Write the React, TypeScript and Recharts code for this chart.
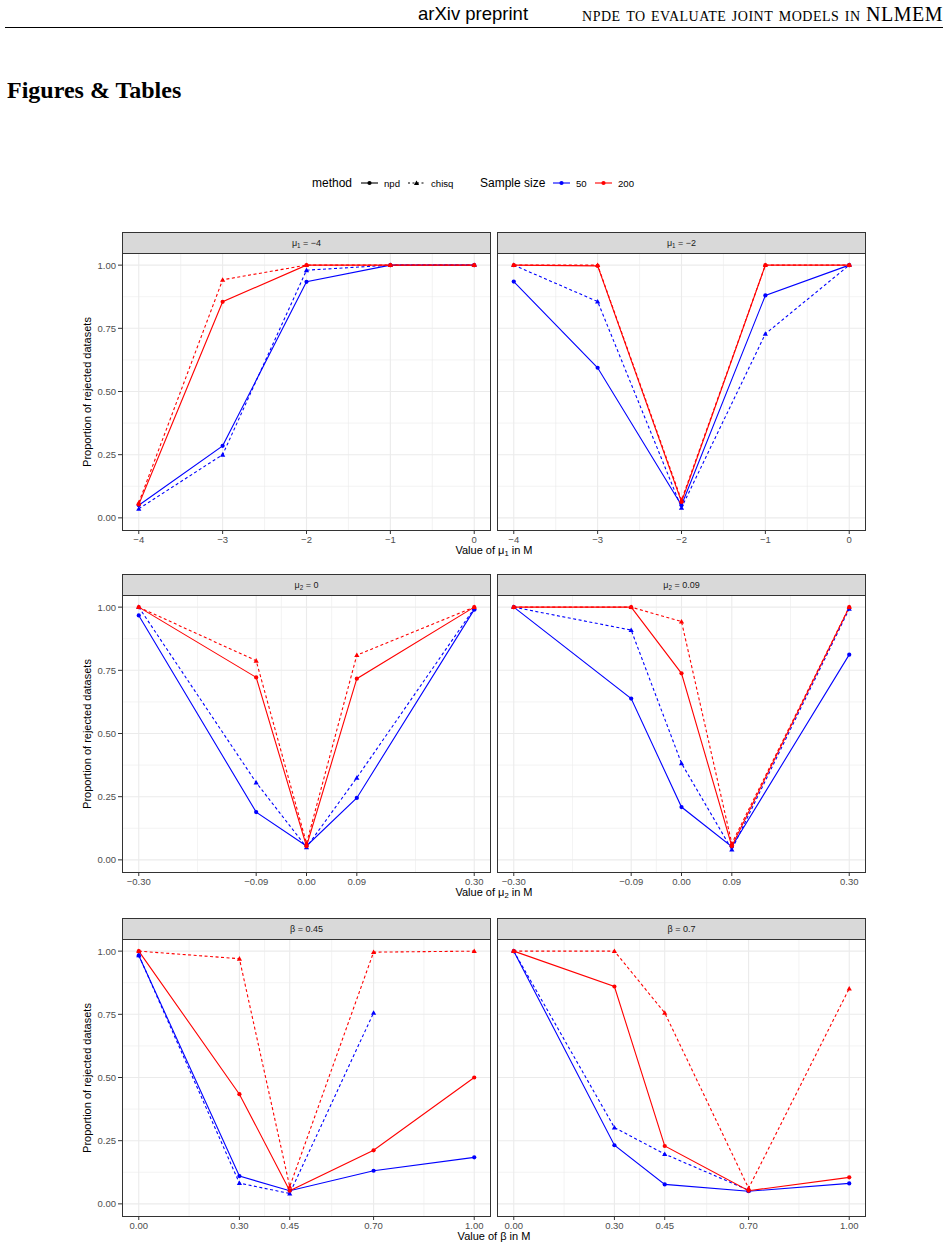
import React from 'react'
import { LineChart, Line, XAxis, YAxis, CartesianGrid } from 'recharts'

// x values tested in each row of panels
const mu1Values = [-4, -3, -2, -1, 0]
const mu2Values = [-0.3, -0.09, 0, 0.09, 0.3]
const betaValues = [0, 0.3, 0.45, 0.7, 1]

// shared y ticks (proportion of rejected datasets)
const yTicks = [0, 0.25, 0.5, 0.75, 1]

// mu1 = -4
const mu1aNpd50 = [0.05, 0.285, 0.934, 1, 1]
const mu1aChisq50 = [0.036, 0.25, 0.98, 1, 1]
const mu1aNpd200 = [0.053, 0.855, 1, 1, 1]
const mu1aChisq200 = [0.06, 0.942, 1, 1, 1]

// mu1 = -2
const mu1bNpd50 = [0.935, 0.594, 0.05, 0.88, 1]
const mu1bChisq50 = [1, 0.856, 0.04, 0.728, 1]
const mu1bNpd200 = [1, 0.997, 0.063, 1, 1]
const mu1bChisq200 = [1, 1, 0.07, 1, 1]

// mu2 = 0
const mu2aNpd50 = [0.967, 0.189, 0.055, 0.245, 0.99]
const mu2aChisq50 = [1, 0.306, 0.05, 0.325, 0.995]
const mu2aNpd200 = [1, 0.722, 0.054, 0.717, 1]
const mu2aChisq200 = [1, 0.788, 0.065, 0.81, 1]

// mu2 = 0.09
const mu2bNpd50 = [1, 0.638, 0.209, 0.052, 0.812]
const mu2bChisq50 = [1, 0.909, 0.382, 0.041, 0.993]
const mu2bNpd200 = [1, 1, 0.738, 0.054, 1]
const mu2bChisq200 = [1, 1, 0.943, 0.065, 1]

// beta = 0.45
const betaaNpd50 = [0.983, 0.11, 0.052, 0.131, 0.184]
const betaaChisq50 = [0.984, 0.082, 0.041, 0.756, null]
const betaaNpd200 = [1, 0.434, 0.052, 0.212, 0.5]
const betaaChisq200 = [1, 0.97, 0.068, 0.996, 1]

// beta = 0.7
const betabNpd50 = [1, 0.232, 0.077, 0.05, 0.081]
const betabChisq50 = [1, 0.302, 0.197, 0.054, null]
const betabNpd200 = [1, 0.86, 0.229, 0.052, 0.105]
const betabChisq200 = [1, 1, 0.756, 0.062, 0.852]

const BLUE = '#0000FF'
const RED = '#FF0000'
const FONT = '"Liberation Sans", Arial, Helvetica, sans-serif'
const SERIF = '"Liberation Serif", "Times New Roman", serif'

const PANEL_W = 369
const PANEL_H = 277
const STRIP_H = 21
const COL_LEFT = [122, 497]
const STRIP_TOP = [232, 574, 918]
const Y_AXIS_W = 52

type Row = { x: number; npd50: number | null; chisq50: number | null; npd200: number | null; chisq200: number | null }

const buildRows = (
    xs: number[],
    npd50: (number | null)[],
    chisq50: (number | null)[],
    npd200: (number | null)[],
    chisq200: (number | null)[],
): Row[] =>
    xs.map((x, i) => ({ x, npd50: npd50[i], chisq50: chisq50[i], npd200: npd200[i], chisq200: chisq200[i] }))

const midpoints = (ticks: number[]) => ticks.slice(1).map((t, i) => (t + ticks[i]) / 2)

const fmtSigned = (digits: number) => (v: number) => {
    const s = Math.abs(v).toFixed(digits)
    return v < 0 ? `\u2212${s}` : s
}

const circleDot = (color: string) => (props: any) => {
    const { cx, cy, index, value } = props
    if (cx == null || cy == null || value == null) return <g key={`c-${index}`} />
    return <circle key={`c-${index}`} cx={cx} cy={cy} r={2.1} fill={color} stroke="none" />
}

const triangleDot = (color: string) => (props: any) => {
    const { cx, cy, index, value } = props
    if (cx == null || cy == null || value == null) return <g key={`t-${index}`} />
    const s = 2.6
    return (
        <polygon
            key={`t-${index}`}
            points={`${cx},${cy - s} ${cx - s},${cy + s * 0.75} ${cx + s},${cy + s * 0.75}`}
            fill={color}
            stroke="none"
        />
    )
}

interface PanelProps {
    label: React.ReactNode
    col: number
    row: number
    data: Row[]
    xTicks: number[]
    xDomain: [number, number]
    xFormat: (v: number) => string
    showY: boolean
}

function Panel({ label, col, row, data, xTicks, xDomain, xFormat, showY }: PanelProps) {
    const left = COL_LEFT[col]
    const stripTop = STRIP_TOP[row]
    const top = stripTop + STRIP_H
    const tickStyle = { fill: '#4D4D4D', fontSize: 9.5, fontFamily: FONT }

    return (
        <>
            <div
                style={{
                    position: 'absolute',
                    left,
                    top: stripTop,
                    width: PANEL_W,
                    height: STRIP_H + 1,
                    boxSizing: 'border-box',
                    background: '#D9D9D9',
                    border: '1px solid #333333',
                    display: 'flex',
                    alignItems: 'center',
                    justifyContent: 'center',
                    fontFamily: FONT,
                    fontSize: 9,
                    color: '#1A1A1A',
                }}
            >
                {label}
            </div>
            <div style={{ position: 'absolute', left: left - Y_AXIS_W, top }}>
                <LineChart
                    width={Y_AXIS_W + PANEL_W + 10}
                    height={PANEL_H + 22}
                    data={data}
                    margin={{ top: 0, right: 10, bottom: 0, left: showY ? 0 : Y_AXIS_W }}
                >
                    {/* minor then major grid */}
                    <CartesianGrid
                        stroke="#EBEBEB"
                        strokeWidth={0.6}
                        horizontalValues={midpoints(yTicks)}
                        verticalValues={midpoints(xTicks)}
                    />
                    <CartesianGrid stroke="#EBEBEB" strokeWidth={1.1} horizontalValues={yTicks} verticalValues={xTicks} />
                    <XAxis
                        type="number"
                        dataKey="x"
                        domain={xDomain}
                        ticks={xTicks}
                        allowDataOverflow
                        interval={0}
                        height={22}
                        axisLine={false}
                        tickLine={{ stroke: '#333333' }}
                        tickSize={4}
                        tickFormatter={xFormat}
                        tick={tickStyle}
                    />
                    <YAxis
                        type="number"
                        domain={[-0.048, 1.048]}
                        ticks={yTicks}
                        allowDataOverflow
                        hide={!showY}
                        width={Y_AXIS_W}
                        axisLine={false}
                        tickLine={{ stroke: '#333333' }}
                        tickSize={4}
                        tickFormatter={(v: number) => v.toFixed(2)}
                        tick={tickStyle}
                    />
                    <Line dataKey="npd50" stroke={BLUE} strokeWidth={1.1} dot={circleDot(BLUE)} isAnimationActive={false} />
                    <Line
                        dataKey="chisq50"
                        stroke={BLUE}
                        strokeWidth={1.1}
                        strokeDasharray="3 2.5"
                        dot={triangleDot(BLUE)}
                        isAnimationActive={false}
                    />
                    <Line dataKey="npd200" stroke={RED} strokeWidth={1.1} dot={circleDot(RED)} isAnimationActive={false} />
                    <Line
                        dataKey="chisq200"
                        stroke={RED}
                        strokeWidth={1.1}
                        strokeDasharray="3 2.5"
                        dot={triangleDot(RED)}
                        isAnimationActive={false}
                    />
                </LineChart>
            </div>
            <div
                style={{
                    position: 'absolute',
                    left,
                    top,
                    width: PANEL_W,
                    height: PANEL_H + 1,
                    boxSizing: 'border-box',
                    border: '1px solid #333333',
                    pointerEvents: 'none',
                }}
            />
        </>
    )
}

const Sub = ({ children }: { children: React.ReactNode }) => (
    <sub style={{ fontSize: '0.7em', verticalAlign: '-0.25em' }}>{children}</sub>
)

const XTitle = ({ row, children }: { row: number; children: React.ReactNode }) => (
    <div
        style={{
            position: 'absolute',
            left: COL_LEFT[0],
            width: COL_LEFT[1] + PANEL_W - COL_LEFT[0],
            top: STRIP_TOP[row] + STRIP_H + PANEL_H + 13,
            textAlign: 'center',
            fontFamily: FONT,
            fontSize: 11,
            color: '#000',
            lineHeight: '14px',
        }}
    >
        {children}
    </div>
)

const YTitle = ({ row }: { row: number }) => {
    const cy = STRIP_TOP[row] + STRIP_H + PANEL_H / 2
    return (
        <div
            style={{
                position: 'absolute',
                left: 87 - 100,
                top: cy - 7,
                width: 200,
                height: 14,
                lineHeight: '14px',
                textAlign: 'center',
                transform: 'rotate(-90deg)',
                fontFamily: FONT,
                fontSize: 11,
                color: '#000',
            }}
        >
            Proportion of rejected datasets
        </div>
    )
}

const LegendKey = ({ color, dashed, shape }: { color: string; dashed?: boolean; shape: 'circle' | 'triangle' }) => (
    <svg width={17} height={10} style={{ display: 'block' }}>
        <line x1={0} y1={5} x2={17} y2={5} stroke={color} strokeWidth={1.1} strokeDasharray={dashed ? '2 2.5' : undefined} />
        {shape === 'circle' ? (
            <circle cx={8.5} cy={5} r={2.1} fill={color} />
        ) : (
            <polygon points="8.5,2.4 5.9,6.9 11.1,6.9" fill={color} />
        )}
    </svg>
)

function Legend() {
    const item = (x: number, node: React.ReactNode, size: number) => (
        <div
            style={{
                position: 'absolute',
                left: x,
                top: 183 - 8,
                height: 16,
                display: 'flex',
                alignItems: 'center',
                fontFamily: FONT,
                fontSize: size,
                color: '#000',
                whiteSpace: 'nowrap',
            }}
        >
            {node}
        </div>
    )
    return (
        <>
            {item(312, 'method', 12)}
            {item(361, <LegendKey color="#000" shape="circle" />, 10)}
            {item(384, 'npd', 9.6)}
            {item(408, <LegendKey color="#000" dashed shape="triangle" />, 10)}
            {item(431, 'chisq', 9.6)}
            {item(480, 'Sample size', 12)}
            {item(553, <LegendKey color={BLUE} shape="circle" />, 10)}
            {item(576, '50', 9.6)}
            {item(595, <LegendKey color={RED} shape="circle" />, 10)}
            {item(618, '200', 9.6)}
        </>
    )
}

export default function App() {
    const fmtInt = (v: number) => (v < 0 ? `\u2212${Math.abs(v)}` : `${v}`)
    return (
        <div style={{ position: 'absolute', left: 0, top: 0, width: 948, height: 1252, background: '#fff', overflow: 'hidden' }}>
            {/* running head */}
            <div
                style={{
                    position: 'absolute',
                    left: 418,
                    top: 3,
                    fontFamily: FONT,
                    fontSize: 18.5,
                    lineHeight: '22px',
                    color: '#000',
                    whiteSpace: 'nowrap',
                }}
            >
                arXiv preprint
            </div>
            <div
                style={{
                    position: 'absolute',
                    right: 5,
                    top: 3,
                    fontFamily: SERIF,
                    fontSize: 20,
                    letterSpacing: 0.5,
                    lineHeight: '22px',
                    fontVariant: 'small-caps',
                    color: '#000',
                    whiteSpace: 'nowrap',
                }}
            >
                npde to evaluate joint models in NLMEM
            </div>
            <div style={{ position: 'absolute', left: 5, top: 27, width: 938, height: 1, background: '#000' }} />
            <div
                style={{
                    position: 'absolute',
                    left: 7,
                    top: 76,
                    fontFamily: SERIF,
                    fontWeight: 'bold',
                    fontSize: 24,
                    lineHeight: '28px',
                    color: '#000',
                    whiteSpace: 'nowrap',
                }}
            >
                Figures &amp; Tables
            </div>

            <Legend />

            <Panel
                label={<span>μ<Sub>1</Sub> = −4</span>}
                col={0}
                row={0}
                data={buildRows(mu1Values, mu1aNpd50, mu1aChisq50, mu1aNpd200, mu1aChisq200)}
                xTicks={mu1Values}
                xDomain={[-4.2, 0.2]}
                xFormat={fmtInt}
                showY
            />
            <Panel
                label={<span>μ<Sub>1</Sub> = −2</span>}
                col={1}
                row={0}
                data={buildRows(mu1Values, mu1bNpd50, mu1bChisq50, mu1bNpd200, mu1bChisq200)}
                xTicks={mu1Values}
                xDomain={[-4.2, 0.2]}
                xFormat={fmtInt}
                showY={false}
            />
            <Panel
                label={<span>μ<Sub>2</Sub> = 0</span>}
                col={0}
                row={1}
                data={buildRows(mu2Values, mu2aNpd50, mu2aChisq50, mu2aNpd200, mu2aChisq200)}
                xTicks={mu2Values}
                xDomain={[-0.33, 0.33]}
                xFormat={fmtSigned(2)}
                showY
            />
            <Panel
                label={<span>μ<Sub>2</Sub> = 0.09</span>}
                col={1}
                row={1}
                data={buildRows(mu2Values, mu2bNpd50, mu2bChisq50, mu2bNpd200, mu2bChisq200)}
                xTicks={mu2Values}
                xDomain={[-0.33, 0.33]}
                xFormat={fmtSigned(2)}
                showY={false}
            />
            <Panel
                label={<span>β = 0.45</span>}
                col={0}
                row={2}
                data={buildRows(betaValues, betaaNpd50, betaaChisq50, betaaNpd200, betaaChisq200)}
                xTicks={betaValues}
                xDomain={[-0.05, 1.05]}
                xFormat={fmtSigned(2)}
                showY
            />
            <Panel
                label={<span>β = 0.7</span>}
                col={1}
                row={2}
                data={buildRows(betaValues, betabNpd50, betabChisq50, betabNpd200, betabChisq200)}
                xTicks={betaValues}
                xDomain={[-0.05, 1.05]}
                xFormat={fmtSigned(2)}
                showY={false}
            />

            <YTitle row={0} />
            <YTitle row={1} />
            <YTitle row={2} />
            <XTitle row={0}>Value of μ<Sub>1</Sub> in M</XTitle>
            <XTitle row={1}>Value of μ<Sub>2</Sub> in M</XTitle>
            <XTitle row={2}>Value of β in M</XTitle>
        </div>
    )
}
